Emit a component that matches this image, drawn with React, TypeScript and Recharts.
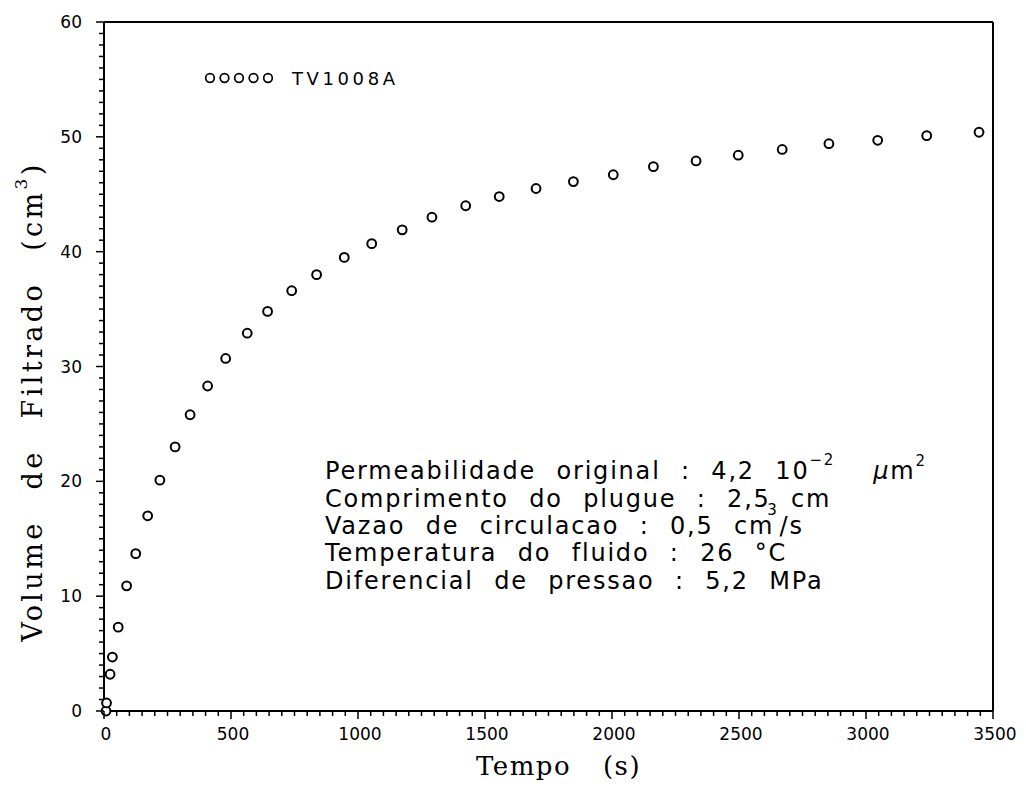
import React from 'react';
import { ScatterChart, Scatter, XAxis, YAxis, ReferenceLine, Legend, Label } from 'recharts';

// Tempo (s)
const tempo = [8, 10, 24, 33, 56, 89, 125, 172, 220, 280, 339, 408, 479, 564, 644, 739, 837, 946, 1054, 1174, 1291, 1424, 1556, 1701, 1848, 2005, 2163, 2331, 2497, 2670, 2854, 3046, 3239, 3445];
// Volume de Filtrado (cm3)
const volume = [0, 0.7, 3.2, 4.7, 7.3, 10.9, 13.7, 17.0, 20.1, 23.0, 25.8, 28.3, 30.7, 32.9, 34.8, 36.6, 38.0, 39.5, 40.7, 41.9, 43.0, 44.0, 44.8, 45.5, 46.1, 46.7, 47.4, 47.9, 48.4, 48.9, 49.4, 49.7, 50.1, 50.4];

const xMajorTicks = [0, 500, 1000, 1500, 2000, 2500, 3000, 3500];
const yMajorTicks = [0, 10, 20, 30, 40, 50, 60];
const xMinorStep = 50;
const yMinorStep = 1;

const seriesName = 'TV1008A';

const annotationLines = [
  'Permeabilidade original : 4,2 10',
  'Comprimento do plugue : 2,5 cm',
  'Vazao de circulacao : 0,5 cm',
  'Temperatura do fluido : 26 °C',
  'Diferencial de pressao : 5,2 MPa',
];

const data = tempo.map((t, i) => ({ t, v: volume[i] }));
const xTicks = Array.from({ length: 3500 / xMinorStep + 1 }, (_, i) => i * xMinorStep);
const yTicks = Array.from({ length: 60 / yMinorStep + 1 }, (_, i) => i * yMinorStep);

const W = 1026;
const H = 787;

const XTick = (props: any) => {
  const { x, y, payload } = props;
  const v = payload.value;
  const major = xMajorTicks.includes(v);
  return (
    <g>
      <line x1={x} y1={y} x2={x} y2={y + (major ? 8 : 5)} stroke="#000" strokeWidth={1.5} />
      {major && (
        <text x={x + 2} y={y + 29} textAnchor="middle" fontFamily="DejaVu Sans" fontSize={17} fill="#000">
          {v}
        </text>
      )}
    </g>
  );
};

const YTick = (props: any) => {
  const { x, y, payload } = props;
  const v = payload.value;
  const major = yMajorTicks.includes(v);
  return (
    <g>
      <line x1={x} y1={y} x2={x - (major ? 8 : 5)} y2={y} stroke="#000" strokeWidth={1.5} />
      {major && (
        <text x={x - 22} y={y + 6} textAnchor="end" fontFamily="DejaVu Sans" fontSize={17} fill="#000">
          {v}
        </text>
      )}
    </g>
  );
};

const Marker = (props: any) => {
  const { cx, cy } = props;
  return <circle cx={cx} cy={cy} r={4.4} fill="#fff" stroke="#000" strokeWidth={2} />;
};

const LegendContent = (props: any) => {
  const name = props.payload && props.payload[0] ? props.payload[0].value : seriesName;
  return (
    <svg width={240} height={30}>
      {[0, 1, 2, 3, 4].map((i) => (
        <circle key={i} cx={12 + i * 14.5} cy={14} r={4.3} fill="#fff" stroke="#000" strokeWidth={1.7} />
      ))}
      <text x={94} y={21} fontFamily="DejaVu Sans" fontSize={18} letterSpacing={3.6} fill="#000">
        {name}
      </text>
    </svg>
  );
};

const XTitle = (props: any) => {
  const { viewBox } = props;
  const cx = viewBox.x + viewBox.width / 2 + 10;
  return (
    <text x={cx} y={viewBox.y + 64} textAnchor="middle" fontFamily="DejaVu Serif" fontSize={26} letterSpacing={1.5} wordSpacing={22} fill="#000">
      Tempo (s)
    </text>
  );
};

const YTitle = (props: any) => {
  const { viewBox } = props;
  const cy = viewBox.y + viewBox.height / 2 + 35;
  const bx = 42;
  return (
    <text x={bx} y={cy} transform={`rotate(-90, ${bx}, ${cy})`} textAnchor="middle" fontFamily="DejaVu Serif" fontSize={27} letterSpacing={3.4} wordSpacing={19} fill="#000">
      Volume de Filtrado (cm
      <tspan dy={-15} fontSize={17}>3</tspan>
      <tspan dy={15}>)</tspan>
    </text>
  );
};

const txt = { fontFamily: 'DejaVu Sans', fontSize: 24, letterSpacing: 1.8, wordSpacing: 11, fill: '#000' } as any;

export default function App() {
  const x0 = 325;
  const base = [479, 506.5, 534, 561, 588.5];
  return (
    <div style={{ position: 'absolute', left: 0, top: 0, width: W, height: H, background: '#fff' }}>
      <ScatterChart width={W} height={H} margin={{ top: 22, right: 33, bottom: 0, left: 0 }} style={{ position: 'absolute', left: 0, top: 0 }}>
        <XAxis
          dataKey="t"
          type="number"
          domain={[0, 3500]}
          ticks={xTicks}
          interval={0}
          height={76}
          tickSize={0}
          tickMargin={0}
          tickLine={false}
          tick={<XTick />}
          axisLine={{ stroke: '#000', strokeWidth: 2 }}
        >
          <Label content={<XTitle />} />
        </XAxis>
        <YAxis
          dataKey="v"
          type="number"
          domain={[0, 60]}
          ticks={yTicks}
          interval={0}
          width={104}
          tickSize={0}
          tickMargin={0}
          tickLine={false}
          tick={<YTick />}
          axisLine={{ stroke: '#000', strokeWidth: 2 }}
        >
          <Label content={<YTitle />} />
        </YAxis>
        <ReferenceLine y={60} stroke="#000" strokeWidth={2} />
        <ReferenceLine x={3500} stroke="#000" strokeWidth={2} />
        <Legend
          layout="horizontal"
          verticalAlign="middle"
          align="center"
          content={<LegendContent />}
          wrapperStyle={{ position: 'absolute', left: 198, top: 64, width: 240, height: 30 }}
        />
        <Scatter name={seriesName} data={data} shape={<Marker />} isAnimationActive={false} />
      </ScatterChart>
      <svg width={W} height={H} style={{ position: 'absolute', left: 0, top: 0, pointerEvents: 'none' }}>
        <text x={x0} y={base[0]} {...txt}>
          {annotationLines[0]}
          <tspan dy={-14} fontSize={15} wordSpacing={0}>−2</tspan>
          <tspan dy={14} dx={38} fontStyle="italic">μ</tspan>
          <tspan>m</tspan>
          <tspan dy={-13} fontSize={15}>2</tspan>
        </text>
        <text x={x0} y={base[1]} {...txt}>{annotationLines[1]}</text>
        <text x={x0} y={base[2]} {...txt}>
          {annotationLines[2]}
          <tspan dx={-7} dy={-19} fontSize={15}>3</tspan>
          <tspan dx={1} dy={19}>/s</tspan>
        </text>
        <text x={x0} y={base[3]} {...txt}>{annotationLines[3]}</text>
        <text x={x0} y={base[4]} {...txt}>{annotationLines[4]}</text>
      </svg>
    </div>
  );
}
